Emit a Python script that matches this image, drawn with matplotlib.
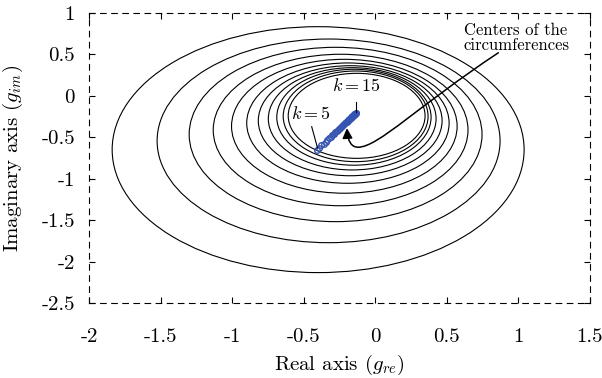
import matplotlib
matplotlib.use("Agg")
import matplotlib.pyplot as plt
from matplotlib.patches import Ellipse, FancyArrowPatch
from matplotlib.path import Path

plt.rcParams['font.family'] = 'cmr10'
plt.rcParams['mathtext.fontset'] = 'cm'
plt.rcParams['axes.unicode_minus'] = False
plt.rcParams['axes.formatter.use_mathtext'] = True

# circumferences for k = 5 ... 15 (center and half-axes)
circ_cx = [-0.399, -0.326, -0.277, -0.242, -0.216, -0.191, -0.175, -0.161, -0.149, -0.137, -0.130]
circ_cy = [-0.649, -0.543, -0.466, -0.412, -0.367, -0.329, -0.300, -0.277, -0.258, -0.247, -0.241]
circ_rx = [1.439, 1.198, 1.023, 0.890, 0.788, 0.707, 0.642, 0.586, 0.539, 0.506, 0.478]
circ_ry = [1.484, 1.229, 1.052, 0.914, 0.808, 0.726, 0.664, 0.617, 0.579, 0.547, 0.513]

# centers of the circumferences
cen_x = [-0.409, -0.392, -0.376, -0.361, -0.347, -0.334, -0.322, -0.310, -0.299, -0.289,
         -0.279, -0.270, -0.261, -0.253, -0.245, -0.237, -0.230, -0.223, -0.216, -0.210,
         -0.204, -0.198, -0.192, -0.187, -0.182, -0.177, -0.172, -0.167, -0.163, -0.159,
         -0.155, -0.151, -0.148, -0.145, -0.142, -0.139, -0.136, -0.134]
cen_y = [-0.653, -0.625, -0.599, -0.575, -0.552, -0.531, -0.512, -0.492, -0.474, -0.458,
         -0.442, -0.427, -0.413, -0.400, -0.387, -0.374, -0.362, -0.351, -0.339, -0.330,
         -0.320, -0.310, -0.300, -0.292, -0.284, -0.276, -0.268, -0.260, -0.253, -0.247,
         -0.240, -0.234, -0.229, -0.224, -0.219, -0.214, -0.209, -0.206]

xticks = [-2, -1.5, -1, -0.5, 0, 0.5, 1, 1.5]
xtick_labels = ["-2", "-1.5", "-1", "-0.5", "0", "0.5", "1", "1.5"]
yticks = [-2.5, -2, -1.5, -1, -0.5, 0, 0.5, 1]
ytick_labels = ["-2.5", "-2", "-1.5", "-1", "-0.5", "0", "0.5", "1"]

fig = plt.figure(figsize=(6.02, 3.78), dpi=100)
ax = fig.add_axes([0.1478, 0.1984, 0.8322, 0.7672])

for cx, cy, rx, ry in zip(circ_cx, circ_cy, circ_rx, circ_ry):
    ax.add_patch(Ellipse((cx, cy), 2 * rx, 2 * ry, fill=False, ec='black', lw=0.8))

ax.plot(cen_x, cen_y, 'o', ms=4, mfc='none', mec='#3553b0', mew=1.0)

# labels k=5 and k=15
ax.text(-0.449, -0.215, '$k=5$', fontsize=13, ha='center', va='center')
ax.plot([-0.444, -0.403], [-0.372, -0.630], color='black', lw=0.8)
ax.text(-0.134, 0.12, '$k=15$', fontsize=13, ha='center', va='center')
ax.plot([-0.134, -0.134], [-0.074, -0.19], color='black', lw=0.8)

# curved arrow pointing to the centers
verts = [(0.86, 0.52), (0.30, -0.12), (0.02, -0.62), (-0.12, -0.62),
         (-0.19, -0.62), (-0.198, -0.39)]
codes = [Path.MOVETO, Path.CURVE4, Path.CURVE4, Path.CURVE4, Path.CURVE3, Path.CURVE3]
arrow = FancyArrowPatch(path=Path(verts, codes), arrowstyle='-|>,head_length=6,head_width=3',
                        color='black', lw=1.1)
ax.add_patch(arrow)
ax.text(0.984, 0.70, 'Centers of the\ncircumferences', fontsize=12,
        ha='center', va='center', linespacing=0.95)

ax.set_xlim(-2, 1.5)
ax.set_ylim(-2.5, 1)
ax.set_xticks(xticks)
ax.set_xticklabels(xtick_labels)
ax.set_yticks(yticks)
ax.set_yticklabels(ytick_labels)
ax.tick_params(direction='in', length=4, width=0.8, top=True, right=True, labelsize=15)
ax.tick_params(axis='x', pad=18)
ax.tick_params(axis='y', pad=10)
for sp in ax.spines.values():
    sp.set_linestyle((0, (5, 5)))
    sp.set_linewidth(0.8)

ax.set_xlabel('Real axis ($g_{re}$)', fontsize=15, labelpad=5)
ax.set_ylabel('Imaginary axis ($g_{im}$)', fontsize=15, labelpad=12)

fig.savefig('out.png', dpi=100)
